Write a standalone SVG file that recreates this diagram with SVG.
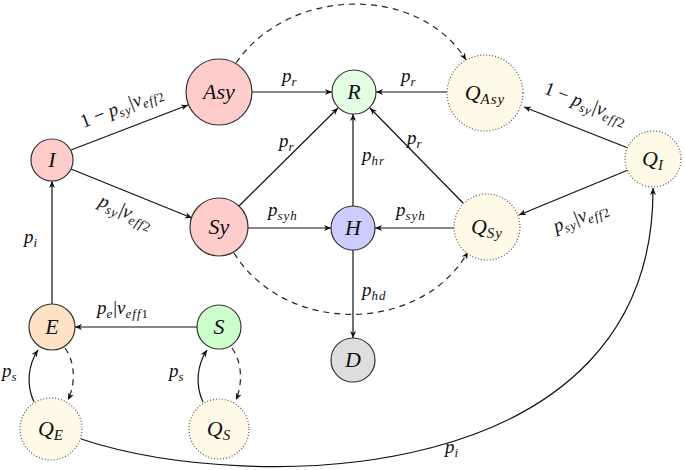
<svg xmlns="http://www.w3.org/2000/svg" width="685" height="470" viewBox="0 0 685 470" font-family="'Liberation Serif', 'DejaVu Serif', serif">
<style>
.n{stroke:#333;stroke-width:1.2}
.q{fill:#fffbe8;stroke:#555;stroke-width:1.2;stroke-dasharray:1 2}
.e{fill:none;stroke:#111;stroke-width:1.2}
.d{fill:none;stroke:#222;stroke-width:1.2;stroke-dasharray:6 5}
.t{font-size:22px;font-style:italic;text-anchor:middle;fill:#111}
.l{font-size:19px;font-style:italic;fill:#111}
.s{font-size:13px;letter-spacing:1px}
.u{font-style:normal}
</style>
<defs>
<marker id="a" viewBox="-8 -4 9 8" refX="0" refY="0" markerWidth="9" markerHeight="8" markerUnits="userSpaceOnUse" orient="auto">
<path d="M0,0 L-7,-3 L-5,0 L-7,3 z" fill="#111"/>
</marker>
</defs>
<g id="connectors">
<path class="d" d="M236,63 C290,-15 420,-15 466,60" marker-end="url(#a)"/>
<path class="d" d="M234,253 C285,335 420,335 468,252" marker-end="url(#a)"/>
<path class="e" d="M71,150 L188,105" marker-end="url(#a)"/>
<path class="e" d="M71,169 L192,218" marker-end="url(#a)"/>
<path class="e" d="M252,92 L332,92" marker-end="url(#a)"/>
<path class="e" d="M239,206 L338,108" marker-end="url(#a)"/>
<path class="e" d="M248,228 L331,228" marker-end="url(#a)"/>
<path class="e" d="M353,206 L353,114" marker-end="url(#a)"/>
<path class="e" d="M447,92 L376,92" marker-end="url(#a)"/>
<path class="e" d="M463,203 L370,108" marker-end="url(#a)"/>
<path class="e" d="M454,228 L375,228" marker-end="url(#a)"/>
<path class="e" d="M628,148 L524,107" marker-end="url(#a)"/>
<path class="e" d="M628,170 L519,215" marker-end="url(#a)"/>
<path class="e" d="M353,250 L353,338" marker-end="url(#a)"/>
<path class="e" d="M52,304 L52,181" marker-end="url(#a)"/>
<path class="e" d="M197,327 L75,327" marker-end="url(#a)"/>
<path class="e" d="M34,402 C26,385 28,365 38,350" marker-end="url(#a)"/>
<path class="d" d="M65,348 C75,362 76,383 68,400" marker-end="url(#a)"/>
<path class="e" d="M203,402 C195,385 197,365 207,350" marker-end="url(#a)"/>
<path class="d" d="M232,348 C242,362 243,383 236,400" marker-end="url(#a)"/>
<path class="e" d="M81,439 C250,495 655,490 653,188" marker-end="url(#a)"/>
</g>
<g id="labels">
<text class="l" transform="translate(124,112) rotate(-21.5)" text-anchor="middle"><tspan class="u">1 − </tspan>p<tspan class="s" dy="4">sy</tspan><tspan class="u" dy="-4">|</tspan>v<tspan class="s" dy="4">eff<tspan class="u">2</tspan></tspan></text>
<text class="l" transform="translate(124,217) rotate(24)" text-anchor="middle">p<tspan class="s" dy="4">sy</tspan><tspan class="u" dy="-4">|</tspan>v<tspan class="s" dy="4">eff<tspan class="u">2</tspan></tspan></text>
<text class="l" x="282" y="82">p<tspan class="s" dy="4">r</tspan></text>
<text class="l" x="279" y="147">p<tspan class="s" dy="4">r</tspan></text>
<text class="l" x="268" y="216">p<tspan class="s" dy="4">syh</tspan></text>
<text class="l" x="362" y="161">p<tspan class="s" dy="4">hr</tspan></text>
<text class="l" x="401" y="82">p<tspan class="s" dy="4">r</tspan></text>
<text class="l" x="407" y="144">p<tspan class="s" dy="4">r</tspan></text>
<text class="l" x="396" y="216">p<tspan class="s" dy="4">syh</tspan></text>
<text class="l" transform="translate(584,109) rotate(21)" text-anchor="middle"><tspan class="u">1 − </tspan>p<tspan class="s" dy="4">sy</tspan><tspan class="u" dy="-4">|</tspan>v<tspan class="s" dy="4">eff<tspan class="u">2</tspan></tspan></text>
<text class="l" transform="translate(583,222) rotate(-21)" text-anchor="middle">p<tspan class="s" dy="4">sy</tspan><tspan class="u" dy="-4">|</tspan>v<tspan class="s" dy="4">eff<tspan class="u">2</tspan></tspan></text>
<text class="l" x="362" y="296">p<tspan class="s" dy="4">hd</tspan></text>
<text class="l" x="24" y="243">p<tspan class="s" dy="4">i</tspan></text>
<text class="l" x="97" y="314">p<tspan class="s" dy="4">e</tspan><tspan class="u" dy="-4">|</tspan>v<tspan class="s" dy="4">eff<tspan class="u">1</tspan></tspan></text>
<text class="l" x="2" y="377">p<tspan class="s" dy="4">s</tspan></text>
<text class="l" x="169" y="377">p<tspan class="s" dy="4">s</tspan></text>
<text class="l" x="445" y="453">p<tspan class="s" dy="4">i</tspan></text>
</g>
<g id="I"><circle class="n" cx="52" cy="160" r="21" fill="#ffcccc"/><text class="t" x="52" y="167">I</text></g>
<g id="Asy"><circle class="n" cx="219" cy="92" r="33" fill="#ffcccc"/><text class="t" x="219" y="99">Asy</text></g>
<g id="Sy"><circle class="n" cx="219" cy="227" r="29" fill="#ffcccc"/><text class="t" x="219" y="234">Sy</text></g>
<g id="R"><circle class="n" cx="354" cy="92" r="22" fill="#e3ffe3"/><text class="t" x="354" y="99">R</text></g>
<g id="H"><circle class="n" cx="353" cy="228" r="22" fill="#ccccff"/><text class="t" x="353" y="235">H</text></g>
<g id="D"><circle class="n" cx="353" cy="360" r="22" fill="#dedede"/><text class="t" x="353" y="367">D</text></g>
<g id="E"><circle class="n" cx="52" cy="327" r="23" fill="#ffe2c6"/><text class="t" x="52" y="334">E</text></g>
<g id="S"><circle class="n" cx="219" cy="327" r="22" fill="#ccffcc"/><text class="t" x="219" y="334">S</text></g>
<g id="QAsy"><circle class="q" cx="485" cy="93" r="38"/><text class="t" x="485" y="100">Q<tspan class="s" style="font-size:15px" dy="4">Asy</tspan></text></g>
<g id="QI"><circle class="q" cx="653" cy="159" r="28"/><text class="t" x="653" y="166">Q<tspan class="s" style="font-size:15px" dy="4">I</tspan></text></g>
<g id="QSy"><circle class="q" cx="487" cy="227" r="33"/><text class="t" x="487" y="234">Q<tspan class="s" style="font-size:15px" dy="4">Sy</tspan></text></g>
<g id="QE"><circle class="q" cx="51" cy="429" r="31"/><text class="t" x="51" y="436">Q<tspan class="s" style="font-size:15px" dy="4">E</tspan></text></g>
<g id="QS"><circle class="q" cx="219" cy="429" r="30"/><text class="t" x="219" y="436">Q<tspan class="s" style="font-size:15px" dy="4">S</tspan></text></g>
</svg>
